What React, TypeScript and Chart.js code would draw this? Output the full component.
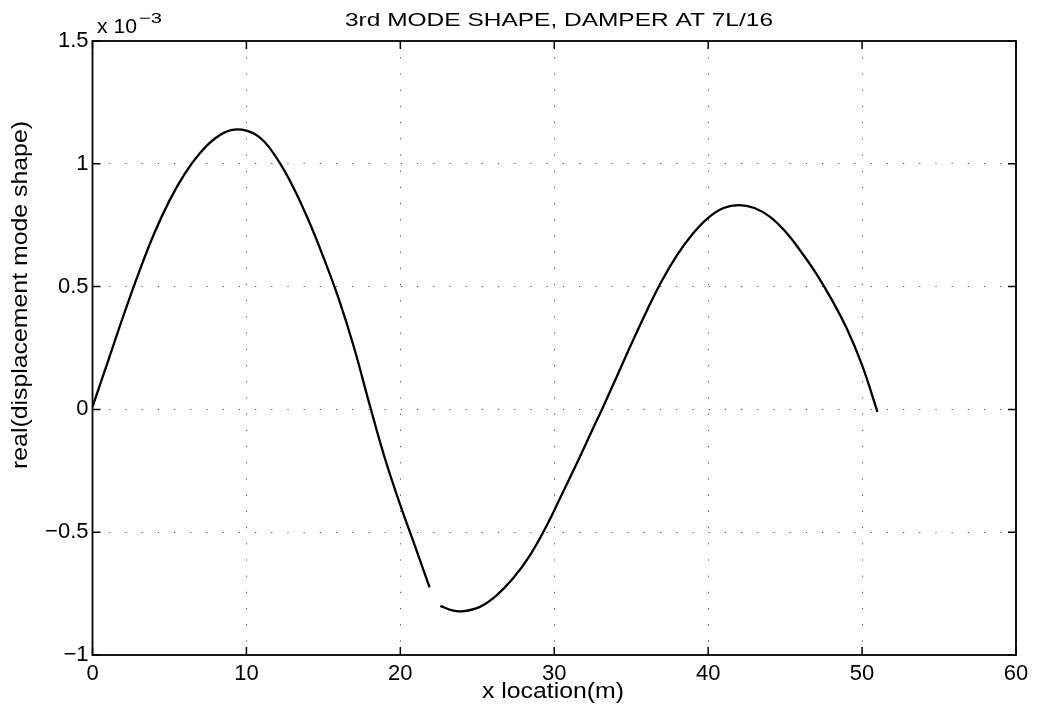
import { useEffect, useRef } from "react";
import { Chart, registerables } from "chart.js";

Chart.register(...registerables);

// ---- data (y values in units of 1e-3) ----
const segment1X = [0, 1, 2, 3, 4, 5, 6, 7, 8, 9, 10, 11, 12, 13, 14, 15, 16, 17, 18, 19, 20, 21, 21.9];
const segment1Y = [0.01, 0.195, 0.38, 0.555, 0.715, 0.85, 0.96, 1.045, 1.105, 1.137, 1.135, 1.1, 1.02, 0.91, 0.775, 0.62, 0.45, 0.25, 0.02, -0.2, -0.39, -0.565, -0.725];

const segment2X = [22.6, 23.3, 24.0, 25.1, 26.2, 27.3, 28.4, 29.5, 30.5, 31.5, 32.5, 33.1, 34, 35, 36, 37, 38, 39, 40, 41, 42, 43, 44, 45, 46, 47, 48, 49, 50, 51];
const segment2Y = [-0.8, -0.817, -0.822, -0.806, -0.76, -0.69, -0.596, -0.474, -0.345, -0.215, -0.08, 0.0, 0.125, 0.265, 0.4, 0.525, 0.63, 0.715, 0.78, 0.82, 0.832, 0.82, 0.785, 0.725, 0.645, 0.555, 0.45, 0.33, 0.18, -0.01];

const xTicks = [0, 10, 20, 30, 40, 50, 60];
const yTicks = [-1, -0.5, 0, 0.5, 1, 1.5];

const titleText = "3rd MODE SHAPE, DAMPER AT 7L/16";
const xLabelText = "x location(m)";
const yLabelText = "real(displacement mode shape)";
const exponentBase = "x 10";
const exponentPower = "\u22123";

const FONT = "'Liberation Sans', Arial, Helvetica, sans-serif";

function drawStretched(
  ctx: CanvasRenderingContext2D,
  text: string,
  cx: number,
  cy: number,
  size: number,
  targetWidth: number,
  rotate = 0,
  align: CanvasTextAlign = "center",
  baseline: CanvasTextBaseline = "middle"
) {
  ctx.save();
  ctx.font = `${size}px ${FONT}`;
  const w = ctx.measureText(text).width;
  const sx = targetWidth / w;
  ctx.translate(cx, cy);
  ctx.rotate(rotate);
  ctx.scale(sx, 1);
  ctx.fillStyle = "#000";
  ctx.textAlign = align;
  ctx.textBaseline = baseline;
  ctx.fillText(text, 0, 0);
  ctx.restore();
}

const framePlugin = {
  id: "matlabFrame",
  afterDraw(chart: any) {
    const { ctx, chartArea } = chart;
    const { left, right, top, bottom } = chartArea;
    const xs = chart.scales.x;
    const ys = chart.scales.y;
    ctx.save();
    ctx.strokeStyle = "#000";
    ctx.lineWidth = 1.8;
    ctx.strokeRect(left, top, right - left, bottom - top);
    ctx.lineWidth = 1.5;
    const tl = 8;
    ctx.beginPath();
    xTicks.forEach((v) => {
      const px = xs.getPixelForValue(v);
      ctx.moveTo(px, bottom);
      ctx.lineTo(px, bottom - tl);
      ctx.moveTo(px, top);
      ctx.lineTo(px, top + tl);
    });
    yTicks.forEach((v) => {
      const py = ys.getPixelForValue(v);
      ctx.moveTo(left, py);
      ctx.lineTo(left + tl, py);
      ctx.moveTo(right, py);
      ctx.lineTo(right - tl, py);
    });
    ctx.stroke();
    ctx.restore();

    // texts
    drawStretched(ctx, titleText, 559, 21, 19, 428);
    drawStretched(ctx, xLabelText, 553, 692, 22, 142);
    drawStretched(ctx, yLabelText, 21, 295, 22, 348, -Math.PI / 2);
    drawStretched(ctx, exponentBase, 97, 33, 20, 40, 0, "left", "alphabetic");
    drawStretched(ctx, exponentPower, 139, 23, 15, 23, 0, "left", "alphabetic");
  },
};

export default function App() {
  const canvasRef = useRef<HTMLCanvasElement | null>(null);

  useEffect(() => {
    document.body.style.margin = "0";
    const canvas = canvasRef.current;
    if (!canvas) return;
    const lineStyle = {
      borderColor: "#000",
      borderWidth: 2.3,
      pointRadius: 0,
      fill: false,
      tension: 0.4,
    };
    const chart = new Chart(canvas, {
      type: "line",
      data: {
        datasets: [
          {
            label: "segment 1",
            data: segment1X.map((x, i) => ({ x, y: segment1Y[i] })),
            ...lineStyle,
          },
          {
            label: "segment 2",
            data: segment2X.map((x, i) => ({ x, y: segment2Y[i] })),
            ...lineStyle,
          },
        ],
      },
      options: {
        responsive: false,
        animation: false,
        layout: { padding: { left: 0, top: 41, right: 26, bottom: 0 } },
        plugins: {
          legend: { display: false },
          tooltip: { enabled: false },
          title: { display: false },
        },
        scales: {
          x: {
            type: "linear",
            min: 0,
            max: 60,
            afterBuildTicks: (scale: any) => {
              scale.ticks = xTicks.map((v) => ({ value: v }));
            },
            afterFit: (scale: any) => {
              scale.height = 57;
            },
            grid: { color: "rgba(0,0,0,0.7)", lineWidth: 1, drawTicks: false },
            border: { display: false, dash: [1.2, 15] },
            ticks: {
              color: "#000",
              padding: 6,
              maxRotation: 0,
              font: { family: FONT, size: 22 },
            },
          },
          y: {
            type: "linear",
            min: -1,
            max: 1.5,
            afterBuildTicks: (scale: any) => {
              scale.ticks = yTicks.map((v) => ({ value: v }));
            },
            afterFit: (scale: any) => {
              scale.width = 92.5;
            },
            grid: { color: "rgba(0,0,0,0.7)", lineWidth: 1, drawTicks: false },
            border: { display: false, dash: [1.2, 15] },
            ticks: {
              color: "#000",
              padding: 4,
              font: { family: FONT, size: 22 },
              callback: (v: any) => (v < 0 ? "\u2212" + Math.abs(v) : String(v)),
            },
          },
        },
      },
      plugins: [framePlugin],
    });
    return () => chart.destroy();
  }, []);

  return (
    <div style={{ width: 1042, height: 712 }}>
      <canvas ref={canvasRef} width={1042} height={712} style={{ display: "block" }} />
    </div>
  );
}
